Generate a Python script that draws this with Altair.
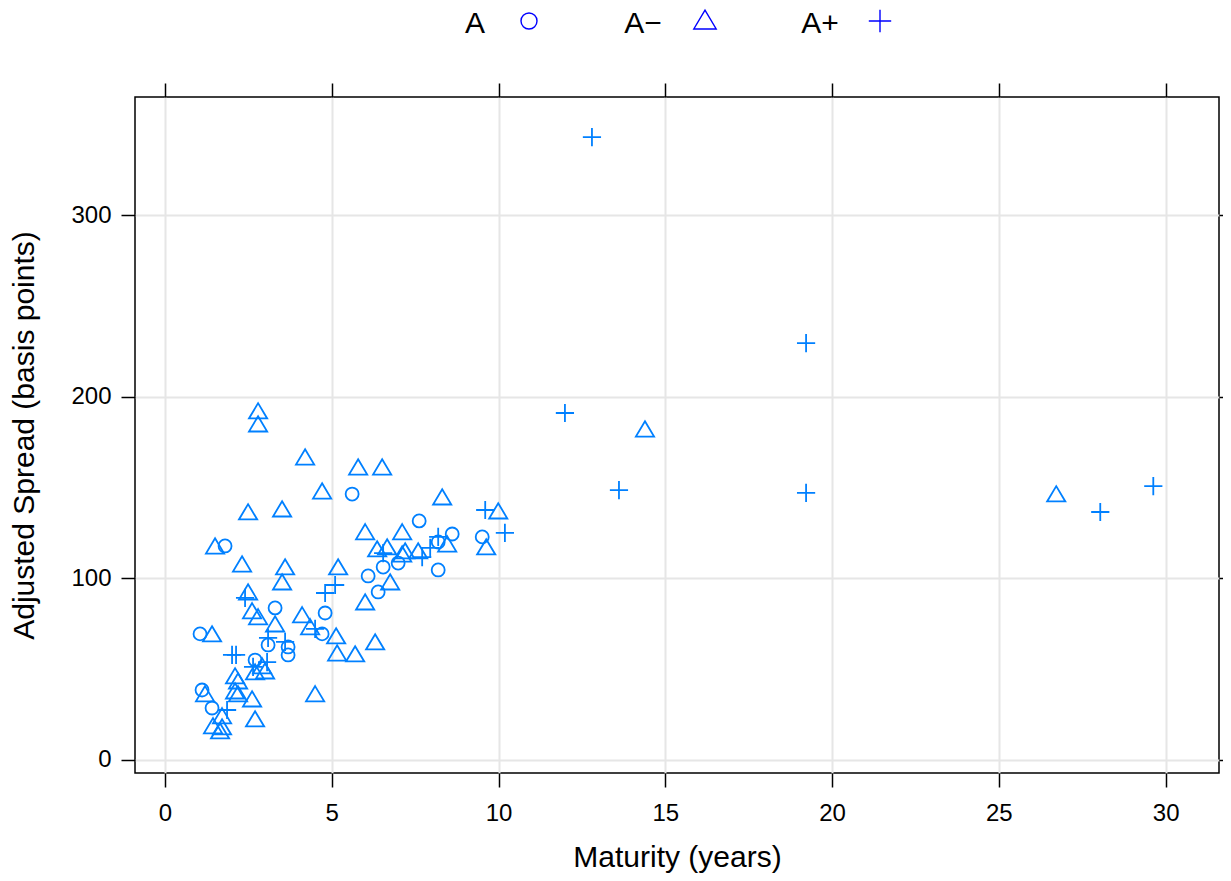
import altair as alt
import pandas as pd

# ---- data ----
a_maturity = [5.61, 1.80, 7.62, 9.51, 8.61, 8.19, 8.19, 6.99, 6.54, 6.09, 6.39,
              4.80, 4.71, 3.30, 3.09, 3.69, 3.69, 2.70, 1.05, 1.11, 1.41]
a_spread = [146.4, 117.8, 131.6, 122.8, 124.4, 120.0, 104.6, 108.4, 106.2, 101.3, 92.5,
            80.9, 69.4, 83.7, 63.3, 62.2, 57.8, 55.0, 69.4, 38.5, 28.6]

am_maturity = [2.79, 2.79, 4.20, 4.71, 5.79, 6.51, 2.49, 3.51, 1.50, 2.31, 3.60, 5.19,
               8.31, 6.00, 7.11, 9.99, 9.63, 8.46, 7.59, 7.20, 7.11, 6.66, 6.36, 6.75,
               6.00, 6.30, 5.70, 5.16, 5.13, 4.11, 4.35, 4.50, 3.51, 2.49, 2.61, 2.79,
               3.30, 1.41, 2.91, 2.70, 3.00, 2.10, 2.19, 2.10, 2.19, 1.20, 2.61, 2.70,
               1.71, 1.44, 1.71, 1.65, 14.39, 26.72]
am_spread = [191.6, 184.4, 166.2, 147.5, 160.7, 160.7, 136.0, 137.6, 117.2, 107.3, 105.7, 105.7,
             144.2, 125.0, 125.0, 136.5, 116.7, 118.3, 114.5, 114.5, 112.8, 116.7, 115.6, 97.4,
             86.4, 64.4, 57.8, 58.3, 67.7, 79.3, 72.7, 35.8, 97.4, 91.9, 81.5, 78.2,
             74.3, 68.8, 51.2, 47.9, 48.4, 45.7, 42.9, 37.4, 35.8, 35.8, 33.0, 22.0,
             23.7, 18.2, 17.6, 15.4, 181.6, 145.9]

ap_maturity = [12.80, 19.22, 11.99, 13.61, 19.22, 28.04, 29.63, 10.19, 9.60, 8.19, 7.95,
               7.71, 6.54, 5.10, 4.80, 4.50, 3.09, 3.60, 2.01, 2.13, 3.06, 1.86, 2.40, 2.64]
ap_spread = [342.9, 229.5, 191.0, 148.6, 147.0, 136.5, 150.8, 125.0, 137.6, 122.8, 116.7,
             111.7, 113.9, 96.3, 91.9, 72.1, 67.2, 65.0, 57.8, 57.8, 53.9, 27.5, 89.2, 51.2]

ratings = ["A", "A\u2212", "A+"]
x_ticks = [0, 5, 10, 15, 20, 25, 30]
y_ticks = [0, 100, 200, 300]

df = pd.DataFrame({
    "maturity": a_maturity + am_maturity + ap_maturity,
    "spread": a_spread + am_spread + ap_spread,
    "rating": [ratings[0]] * len(a_maturity) + [ratings[1]] * len(am_maturity)
              + [ratings[2]] * len(ap_maturity),
})

# ---- styling ----
FONT = "Liberation Sans"
PT_COLOR = "#0080ff"
LEG_COLOR = "#0000ff"
TRI = "M0,-1.35L1.4,1.0L-1.4,1.0Z"
PLUS = "M-1.4,0H1.4M0,-1.4V1.4"
shapes = ["circle", TRI, PLUS]

W, H = 1084, 676
xscale = alt.Scale(domain=[-0.9, 31.6], nice=False, zero=False)
yscale = alt.Scale(domain=[-7.2, 365], nice=False, zero=False)

common_axis = dict(tickSize=14, tickWidth=1.5, tickColor="black", domain=False,
                   labelFont=FONT, labelFontSize=24, labelColor="black",
                   titleFont=FONT, titleFontSize=30, titleFontWeight="normal",
                   titleColor="black")

points = alt.Chart(df).mark_point(filled=False, size=169, strokeWidth=1.8,
                                  color=PT_COLOR, opacity=1).encode(
    x=alt.X("maturity:Q", scale=xscale,
            axis=alt.Axis(values=x_ticks, title="Maturity (years)", grid=True,
                          gridColor="#e6e6e6", gridWidth=2, labelPadding=14,
                          titlePadding=17, **common_axis)),
    y=alt.Y("spread:Q", scale=yscale,
            axis=alt.Axis(values=y_ticks, title="Adjusted Spread (basis points)",
                          grid=True, gridColor="#e6e6e6", gridWidth=2,
                          labelPadding=10, titlePadding=31, **common_axis)),
    shape=alt.Shape("rating:N", scale=alt.Scale(domain=ratings, range=shapes),
                    legend=None),
)

frame_axes = alt.Chart(df).mark_point(opacity=0).encode(
    x=alt.X("maturity:Q", scale=xscale,
            axis=alt.Axis(orient="top", values=x_ticks, labels=False, title=None,
                          grid=False, **common_axis)),
    y=alt.Y("spread:Q", scale=yscale,
            axis=alt.Axis(orient="right", values=y_ticks, labels=False, title=None,
                          grid=False, **common_axis)),
)

# ---- custom key above the panel (label left of symbol) ----
leg_text_x = [340, 508, 685]
leg_sym_x = [394, 570, 745]
leg_layers = []
one = pd.DataFrame({"k": [0]})
for lab, shp, tx, sx in zip(ratings, shapes, leg_text_x, leg_sym_x):
    leg_layers.append(
        alt.Chart(one).mark_text(font=FONT, fontSize=30, color="black",
                                 align="center", baseline="alphabetic").encode(
            x=alt.value(tx), y=alt.value(-64), text=alt.value(lab)))
    leg_layers.append(
        alt.Chart(one).mark_point(shape=shp, filled=False, size=256, strokeWidth=1.4,
                                  color=LEG_COLOR, opacity=1).encode(
            x=alt.value(sx), y=alt.value(-76)))

chart = alt.layer(points, frame_axes, *leg_layers).resolve_axis(
    x="independent", y="independent"
).properties(
    width=W, height=H,
    autosize=alt.AutoSizeParams(type="none"),
    padding={"left": 127, "top": 89, "right": 4, "bottom": 100},
    background="white",
).configure_view(stroke="black", strokeWidth=1.5)

chart.save("out.html", embed_options={"renderer": "svg", "actions": False})
